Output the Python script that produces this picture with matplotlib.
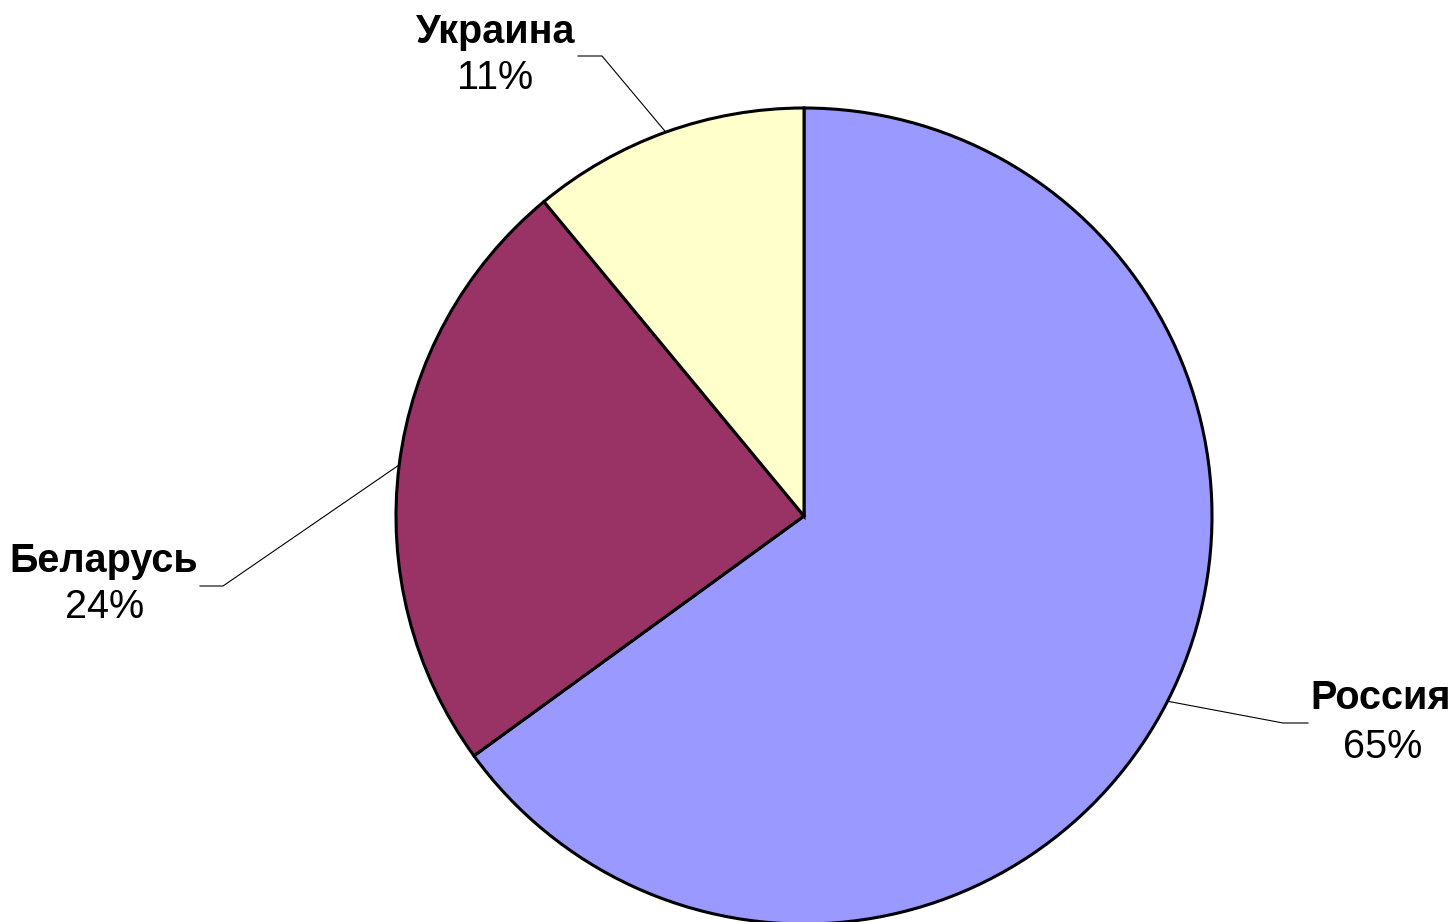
import numpy as np
import matplotlib
matplotlib.use("Agg")
import matplotlib.pyplot as plt

# data
countries = ["Россия", "Беларусь", "Украина"]
shares = [65, 24, 11]
colors = ["#9999FF", "#993366", "#FFFFCC"]

W, H = 1456, 922
plt.rcParams['font.family'] = ['Liberation Sans', 'DejaVu Sans']

fig = plt.figure(figsize=(W / 100, H / 100), dpi=100)
ax = fig.add_axes([0, 0, 1, 1])

cx, cy, r = 804, H - 516, 408
wedges, _ = ax.pie(shares, colors=colors, startangle=90, counterclock=False,
                   center=(cx, cy), radius=r,
                   wedgeprops=dict(edgecolor="black", linewidth=2.2))

ax.set_xlim(0, W)
ax.set_ylim(0, H)
ax.set_aspect("equal")
ax.axis("off")

# label placement (pixel coords from top-left): name centre, leader elbow, elbow end
label_pos = {
    "Россия": dict(name=(1381, 698), pct=(1383, 747), elbow=(1283, 723), end=(1308, 723)),
    "Беларусь": dict(name=(104, 561), pct=(105, 607), elbow=(223, 586), end=(200, 586)),
    "Украина": dict(name=(496, 32), pct=(495, 78), elbow=(602, 56), end=(578, 56)),
}

total = sum(shares)
for w, name, val in zip(wedges, countries, shares):
    mid = np.deg2rad((w.theta1 + w.theta2) / 2)
    px, py = cx + r * np.cos(mid), cy + r * np.sin(mid)
    p = label_pos[name]
    ex, ey = p["elbow"]
    fx, fy = p["end"]
    ax.plot([px, ex, fx], [py, H - ey, H - fy], color="black", linewidth=0.8)
    ax.text(p["name"][0], H - p["name"][1], name, ha="center", va="center",
            fontsize=28.5, fontweight="bold")
    ax.text(p["pct"][0], H - p["pct"][1], f"{round(val / total * 100)}%",
            ha="center", va="center", fontsize=28.5)

fig.savefig("out.png", dpi=100)
